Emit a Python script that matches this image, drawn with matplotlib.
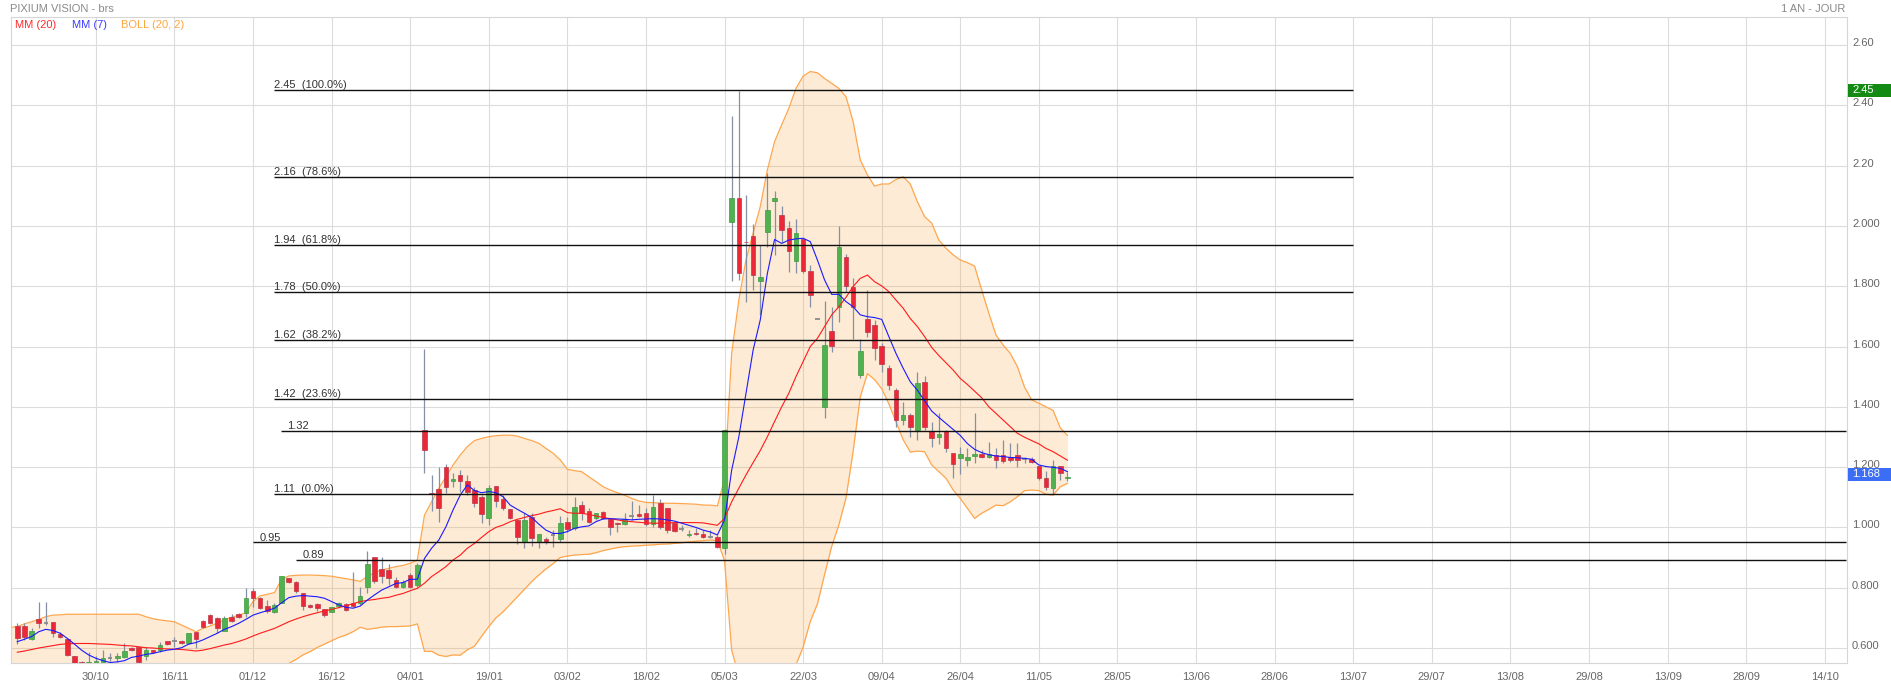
import matplotlib
matplotlib.use('Agg')
import matplotlib.pyplot as plt
import matplotlib.transforms as mtrans
from matplotlib.patches import Rectangle
import numpy as np

plt.rcParams['font.family'] = ['Liberation Sans', 'DejaVu Sans']

# ---------------- data ----------------
opens = [0.673, 0.673, 0.631, 0.695, 0.683, 0.685, 0.645, 0.631, 0.573, 0.553,
         0.545, 0.548, 0.545, 0.568, 0.567, 0.571, 0.600, 0.602, 0.574, 0.593,
         0.593, 0.623, 0.624, 0.623, 0.615, 0.652, 0.691, 0.708, 0.699, 0.656,
         0.703, 0.712, 0.715, 0.789, 0.765, 0.740, 0.720, 0.750, 0.831, 0.820,
         0.781, 0.742, 0.746, 0.728, 0.721, 0.740, 0.746, 0.748, 0.748, 0.803,
         0.901, 0.862, 0.858, 0.826, 0.803, 0.842, 0.810, 1.323, 1.115, 1.127,
         1.201, 1.155, 1.174, 1.155, 1.124, 1.102, 1.032, 1.137, 1.094, 1.060,
         1.025, 0.953, 1.036, 0.953, 0.960, 0.975, 0.960, 1.019, 0.997, 1.073,
         1.054, 1.030, 1.050, 1.028, 1.016, 1.010, 1.037, 1.043, 1.047, 1.010,
         1.080, 1.063, 1.014, 0.996, 0.974, 0.983, 0.978, 0.968, 0.969, 0.931,
         2.014, 2.091, 1.948, 1.967, 1.818, 1.981, 2.081, 2.036, 1.992, 1.885,
         1.957, 1.851, 1.691, 1.401, 1.652, 1.732, 1.896, 1.799, 1.504, 1.691,
         1.671, 1.602, 1.528, 1.456, 1.356, 1.373, 1.323, 1.481, 1.320, 1.301,
         1.321, 1.246, 1.229, 1.224, 1.238, 1.242, 1.232, 1.241, 1.241, 1.235,
         1.241, 1.228, 1.226, 1.204, 1.165, 1.132, 1.204, 1.165]

closes = [0.632, 0.638, 0.655, 0.684, 0.683, 0.651, 0.635, 0.576, 0.545, 0.540,
          0.553, 0.556, 0.568, 0.568, 0.573, 0.591, 0.593, 0.555, 0.592, 0.586,
          0.609, 0.612, 0.624, 0.615, 0.649, 0.629, 0.671, 0.682, 0.665, 0.701,
          0.690, 0.702, 0.765, 0.765, 0.732, 0.722, 0.743, 0.839, 0.820, 0.790,
          0.739, 0.737, 0.732, 0.710, 0.735, 0.748, 0.726, 0.738, 0.773, 0.879,
          0.823, 0.839, 0.831, 0.803, 0.820, 0.803, 0.875, 1.257, 1.111, 1.066,
          1.135, 1.160, 1.155, 1.116, 1.080, 1.043, 1.130, 1.089, 1.063, 1.030,
          0.969, 1.025, 0.964, 0.978, 0.952, 0.975, 1.014, 0.994, 1.067, 1.047,
          1.019, 1.047, 1.030, 1.002, 1.010, 1.028, 1.037, 1.038, 1.010, 1.067,
          1.000, 0.991, 0.989, 0.996, 0.979, 0.977, 0.967, 0.968, 0.936, 1.323,
          2.091, 1.843, 1.945, 1.837, 1.829, 2.053, 2.094, 1.987, 1.918, 1.975,
          1.852, 1.770, 1.691, 1.605, 1.602, 1.929, 1.802, 1.732, 1.585, 1.649,
          1.594, 1.541, 1.472, 1.356, 1.373, 1.334, 1.478, 1.332, 1.295, 1.310,
          1.262, 1.210, 1.242, 1.232, 1.242, 1.232, 1.243, 1.224, 1.220, 1.224,
          1.224, 1.228, 1.218, 1.165, 1.135, 1.204, 1.182, 1.168]

highs = [0.682, 0.684, 0.665, 0.751, 0.751, 0.686, 0.652, 0.632, 0.575, 0.556,
         0.587, 0.575, 0.593, 0.585, 0.585, 0.617, 0.602, 0.604, 0.602, 0.595,
         0.621, 0.624, 0.636, 0.626, 0.650, 0.653, 0.694, 0.712, 0.703, 0.706,
         0.712, 0.717, 0.800, 0.798, 0.768, 0.759, 0.748, 0.840, 0.833, 0.822,
         0.783, 0.745, 0.750, 0.731, 0.737, 0.752, 0.749, 0.851, 0.803, 0.922,
         0.903, 0.903, 0.879, 0.835, 0.826, 0.848, 0.881, 1.592, 1.174, 1.201,
         1.210, 1.181, 1.190, 1.174, 1.135, 1.108, 1.141, 1.138, 1.107, 1.062,
         1.026, 1.047, 1.047, 0.979, 0.967, 0.993, 1.038, 1.036, 1.102, 1.087,
         1.063, 1.047, 1.053, 1.028, 1.019, 1.047, 1.087, 1.074, 1.063, 1.107,
         1.094, 1.063, 1.016, 1.007, 0.991, 0.997, 0.991, 0.991, 0.975, 1.325,
         2.365, 2.449, 2.103, 2.005, 1.937, 2.174, 2.116, 2.066, 2.016, 2.023,
         1.958, 1.870, 1.692, 1.752, 1.732, 2.001, 1.907, 1.826, 1.624, 1.787,
         1.688, 1.610, 1.540, 1.461, 1.417, 1.378, 1.514, 1.502, 1.351, 1.378,
         1.322, 1.248, 1.268, 1.262, 1.378, 1.257, 1.284, 1.263, 1.290, 1.279,
         1.279, 1.235, 1.235, 1.205, 1.188, 1.224, 1.205, 1.184]

lows = [0.612, 0.628, 0.625, 0.665, 0.675, 0.638, 0.632, 0.573, 0.540, 0.535,
        0.540, 0.545, 0.540, 0.556, 0.555, 0.566, 0.591, 0.550, 0.561, 0.584,
        0.588, 0.609, 0.605, 0.613, 0.612, 0.601, 0.668, 0.680, 0.650, 0.655,
        0.686, 0.699, 0.704, 0.737, 0.728, 0.715, 0.716, 0.748, 0.815, 0.783,
        0.726, 0.734, 0.722, 0.704, 0.718, 0.735, 0.723, 0.735, 0.743, 0.782,
        0.815, 0.815, 0.809, 0.800, 0.800, 0.798, 0.803, 1.181, 1.055, 1.019,
        1.113, 1.135, 1.119, 1.107, 1.067, 1.014, 1.008, 1.067, 1.058, 1.027,
        0.945, 0.933, 0.938, 0.931, 0.945, 0.936, 0.953, 0.986, 0.991, 1.025,
        1.014, 1.025, 1.027, 0.975, 0.984, 1.007, 1.025, 1.036, 1.005, 1.002,
        0.994, 0.983, 0.986, 0.989, 0.969, 0.975, 0.964, 0.964, 0.933, 0.912,
        1.818, 1.821, 1.749, 1.787, 1.705, 1.931, 1.904, 1.948, 1.848, 1.843,
        1.843, 1.732, 1.690, 1.362, 1.583, 1.682, 1.782, 1.624, 1.494, 1.633,
        1.555, 1.517, 1.456, 1.334, 1.340, 1.301, 1.290, 1.323, 1.266, 1.276,
        1.251, 1.165, 1.177, 1.204, 1.215, 1.229, 1.229, 1.196, 1.215, 1.218,
        1.201, 1.212, 1.213, 1.157, 1.124, 1.111, 1.157, 1.154]

ma7 = [0.621, 0.629, 0.638, 0.654, 0.662, 0.658, 0.649, 0.632, 0.613, 0.593,
       0.577, 0.566, 0.558, 0.552, 0.554, 0.558, 0.569, 0.573, 0.579, 0.582,
       0.588, 0.593, 0.596, 0.601, 0.613, 0.618, 0.627, 0.638, 0.649, 0.662,
       0.671, 0.682, 0.695, 0.709, 0.717, 0.724, 0.732, 0.750, 0.767, 0.772,
       0.774, 0.772, 0.770, 0.765, 0.754, 0.743, 0.735, 0.732, 0.739, 0.759,
       0.776, 0.792, 0.803, 0.814, 0.817, 0.828, 0.828, 0.897, 0.931, 0.958,
       1.002, 1.058, 1.107, 1.141, 1.122, 1.115, 1.119, 1.115, 1.102, 1.074,
       1.060, 1.047, 1.033, 1.011, 0.991, 0.980, 0.980, 0.986, 0.997, 1.002,
       1.005, 1.019, 1.028, 1.029, 1.028, 1.027, 1.025, 1.027, 1.028, 1.029,
       1.028, 1.025, 1.021, 1.014, 1.007, 1.000, 0.991, 0.985, 0.975, 1.025,
       1.190, 1.300, 1.445, 1.588, 1.688, 1.843, 1.955, 1.942, 1.953, 1.957,
       1.959, 1.948, 1.887, 1.821, 1.773, 1.773, 1.749, 1.732, 1.705, 1.699,
       1.696, 1.690, 1.633, 1.577, 1.528, 1.483, 1.455, 1.420, 1.386, 1.365,
       1.345, 1.325, 1.305, 1.278, 1.259, 1.248, 1.241, 1.237, 1.235, 1.232,
       1.231, 1.229, 1.226, 1.207, 1.202, 1.199, 1.196, 1.185]

ma20 = [0.586, 0.590, 0.595, 0.600, 0.604, 0.608, 0.612, 0.614, 0.615, 0.615,
        0.615, 0.614, 0.613, 0.612, 0.610, 0.608, 0.607, 0.604, 0.601, 0.600,
        0.598, 0.597, 0.596, 0.595, 0.593, 0.590, 0.593, 0.598, 0.604, 0.610,
        0.615, 0.622, 0.630, 0.640, 0.649, 0.657, 0.665, 0.676, 0.687, 0.696,
        0.704, 0.711, 0.717, 0.723, 0.728, 0.734, 0.740, 0.747, 0.754, 0.758,
        0.761, 0.765, 0.768, 0.775, 0.781, 0.790, 0.798, 0.815, 0.837, 0.853,
        0.870, 0.892, 0.908, 0.931, 0.947, 0.967, 0.986, 1.000, 1.008, 1.019,
        1.027, 1.033, 1.039, 1.044, 1.051, 1.056, 1.062, 1.049, 1.047, 1.047,
        1.043, 1.038, 1.033, 1.029, 1.025, 1.021, 1.019, 1.017, 1.015, 1.014,
        1.014, 1.014, 1.016, 1.016, 1.016, 1.016, 1.015, 1.011, 1.007, 1.030,
        1.085, 1.130, 1.174, 1.215, 1.255, 1.301, 1.351, 1.400, 1.445, 1.500,
        1.550, 1.600, 1.627, 1.666, 1.705, 1.732, 1.763, 1.799, 1.826, 1.837,
        1.815, 1.801, 1.782, 1.754, 1.727, 1.693, 1.666, 1.633, 1.597, 1.570,
        1.546, 1.522, 1.494, 1.474, 1.452, 1.430, 1.400, 1.378, 1.356, 1.334,
        1.312, 1.299, 1.288, 1.277, 1.262, 1.251, 1.237, 1.223]

# Bollinger bands: first value sits one session before the first candle
boll_upper = [0.668,
              0.671, 0.680, 0.687, 0.695, 0.704, 0.709, 0.710, 0.712, 0.712, 0.712,
              0.712, 0.712, 0.712, 0.712, 0.712, 0.712, 0.712, 0.712, 0.704, 0.697,
              0.693, 0.690, 0.687, 0.676, 0.665, 0.654, 0.665, 0.673, 0.682, 0.693,
              0.702, 0.709, 0.717, 0.754, 0.773, 0.778, 0.784, 0.828, 0.839, 0.841,
              0.842, 0.842, 0.841, 0.840, 0.838, 0.834, 0.830, 0.826, 0.821, 0.837,
              0.850, 0.859, 0.864, 0.870, 0.874, 0.881, 0.892, 1.041, 1.085, 1.130,
              1.168, 1.207, 1.240, 1.268, 1.288, 1.295, 1.301, 1.304, 1.306, 1.306,
              1.303, 1.295, 1.288, 1.279, 1.262, 1.246, 1.224, 1.193, 1.188, 1.185,
              1.168, 1.152, 1.135, 1.124, 1.115, 1.107, 1.096, 1.088, 1.083, 1.082,
              1.081, 1.080, 1.080, 1.079, 1.078, 1.077, 1.074, 1.074, 1.071, 1.160,
              1.577, 1.754, 1.887, 1.975, 2.064, 2.186, 2.279, 2.335, 2.390, 2.456,
              2.497, 2.512, 2.508, 2.489, 2.473, 2.456, 2.429, 2.346, 2.219, 2.169,
              2.132, 2.139, 2.139, 2.154, 2.163, 2.139, 2.080, 2.031, 2.009, 1.953,
              1.926, 1.904, 1.887, 1.878, 1.867, 1.787, 1.710, 1.638, 1.605, 1.577,
              1.533, 1.465, 1.423, 1.412, 1.400, 1.388, 1.330, 1.305]

boll_lower = [0.500,
              0.501, 0.500, 0.503, 0.505, 0.504, 0.507, 0.514, 0.516, 0.518, 0.518,
              0.518, 0.516, 0.514, 0.512, 0.508, 0.504, 0.502, 0.496, 0.498, 0.503,
              0.503, 0.504, 0.505, 0.514, 0.521, 0.526, 0.521, 0.523, 0.526, 0.527,
              0.528, 0.535, 0.543, 0.526, 0.525, 0.536, 0.540, 0.524, 0.549, 0.562,
              0.577, 0.588, 0.602, 0.613, 0.624, 0.635, 0.643, 0.654, 0.669, 0.662,
              0.665, 0.669, 0.671, 0.671, 0.672, 0.673, 0.680, 0.589, 0.589, 0.576,
              0.572, 0.577, 0.576, 0.594, 0.606, 0.639, 0.671, 0.700, 0.720, 0.745,
              0.770, 0.795, 0.820, 0.842, 0.862, 0.880, 0.900, 0.905, 0.908, 0.910,
              0.911, 0.916, 0.923, 0.928, 0.933, 0.936, 0.938, 0.939, 0.941, 0.942,
              0.944, 0.945, 0.947, 0.949, 0.952, 0.954, 0.956, 0.958, 0.956, 0.890,
              0.593, 0.506, 0.461, 0.455, 0.446, 0.416, 0.423, 0.465, 0.500, 0.544,
              0.603, 0.688, 0.746, 0.843, 0.937, 1.008, 1.097, 1.252, 1.433, 1.510,
              1.490, 1.460, 1.410, 1.350, 1.291, 1.250, 1.253, 1.251, 1.207, 1.185,
              1.163, 1.124, 1.096, 1.063, 1.030, 1.047, 1.060, 1.074, 1.072, 1.085,
              1.102, 1.122, 1.124, 1.122, 1.110, 1.107, 1.135, 1.146]

tick_labels = ['30/10', '16/11', '01/12', '16/12', '04/01', '19/01', '03/02',
               '18/02', '05/03', '22/03', '09/04', '26/04', '11/05', '28/05',
               '13/06', '28/06', '13/07', '29/07', '13/08', '29/08', '13/09',
               '28/09', '14/10']
tick_step = 11  # sessions between date labels

ytick_values = [0.6, 0.8, 1.0, 1.2, 1.4, 1.6, 1.8, 2.0, 2.2, 2.4, 2.6]
ytick_labels = ['0.600', '0.800', '1.000', '1.200', '1.400', '1.600', '1.800',
                '2.000', '2.20', '2.40', '2.60']

fib_values = [2.45, 2.163, 1.938, 1.78, 1.622, 1.426, 1.11]
fib_labels = ['2.45  (100.0%)', '2.16  (78.6%)', '1.94  (61.8%)', '1.78  (50.0%)',
              '1.62  (38.2%)', '1.42  (23.6%)', '1.11  (0.0%)']
fib_start, fib_end = 35.9, 187

level_values = [1.321, 0.950, 0.891]
level_labels = ['1.32', '0.95', '0.89']
level_starts = [36.9, 33.0, 39.0]

last_price = 1.168
last_label = '1.168'
high_price = 2.45
high_label = '2.45'

# ---------------- figure ----------------
W, H = 1891, 687
fig = plt.figure(figsize=(W / 100, H / 100), dpi=100)
L, R, T, B = 10.7, 1846.5, 17.3, 663.3
ax = fig.add_axes([L / W, 1 - B / H, (R - L) / W, (B - T) / H])
ax.set_xlim(-0.92, 256.05)
ax.set_ylim(0.5493, 2.6919)

n = len(closes)
x = np.arange(n)
xb = np.arange(-1, n)
o = np.array(opens)
c = np.array(closes)
hi = np.array(highs)
lo = np.array(lows)

# grid
ax.set_xticks(np.arange(1, len(tick_labels) + 1) * tick_step)
ax.set_xticklabels(tick_labels)
ax.set_yticks(ytick_values)
ax.set_yticklabels(ytick_labels)
ax.grid(True, color='#dcdcdc', lw=0.8, zorder=0)
ax.set_axisbelow(True)
for s in ax.spines.values():
    s.set_color('#d6d6d6')
    s.set_linewidth(0.8)
ax.yaxis.tick_right()
ax.tick_params(axis='y', length=0, pad=4, labelsize=8, labelcolor='#666666')
ax.tick_params(axis='x', length=0, pad=6, labelsize=8, labelcolor='#666666')
for lab in ax.get_yticklabels():
    lab.set_transform(lab.get_transform() + mtrans.ScaledTranslation(0, 3 / 100, fig.dpi_scale_trans))

# Bollinger
ax.fill_between(xb, boll_lower, boll_upper, color='#f7a23c', alpha=0.21, lw=0, zorder=1)
ax.plot(xb, boll_upper, color='#ffa64d', lw=0.9, zorder=2)
ax.plot(xb, boll_lower, color='#ffa64d', lw=0.9, zorder=2)

# candles
ax.vlines(x, lo, hi, color='#8590a4', lw=0.9, zorder=3)
up = c > o
dn = c < o
fl = c == o
bottom = np.minimum(o, c)
height = np.abs(c - o)
ax.bar(x[up], height[up], bottom=bottom[up], width=0.64, color='#4fb14f',
       edgecolor='#3f9a3f', lw=0.5, zorder=4)
ax.bar(x[dn], height[dn], bottom=bottom[dn], width=0.64, color='#ec2838',
       edgecolor='#b8384a', lw=0.5, zorder=4)
ax.hlines(c[fl], x[fl] - 0.32, x[fl] + 0.32, color='#8a8a8a', lw=1.3, zorder=4)

# moving averages
ax.plot(x, ma20, color='#ff1a1a', lw=0.8, zorder=5)
ax.plot(x, ma7, color='#1a1aff', lw=0.8, zorder=5)

# fibonacci
ax.hlines(fib_values, fib_start, fib_end, color='#111111', lw=1.0, zorder=6)
for v, t in zip(fib_values, fib_labels):
    ax.text(fib_start, v + 0.006, t, fontsize=8, color='#333333', va='baseline',
            ha='left', zorder=7)
for v, t, s in zip(level_values, level_labels, level_starts):
    ax.hlines(v, s, ax.get_xlim()[1], color='#111111', lw=1.0, zorder=6)
    ax.text(s + 0.9, v + 0.006, t, fontsize=8, color='#333333', va='baseline',
            ha='left', zorder=7)

# header texts
fig.text(10 / W, 1 - 8.5 / H, 'PIXIUM VISION - brs', fontsize=8, color='#8a8a8a',
         ha='left', va='center')
fig.text(1845 / W, 1 - 8.5 / H, '1 AN - JOUR', fontsize=8, color='#8a8a8a',
         ha='right', va='center')
fig.text(15 / W, 1 - 25 / H, 'MM (20)', fontsize=8, color='#ff2a2a', ha='left', va='center')
fig.text(71.5 / W, 1 - 25 / H, 'MM (7)', fontsize=8, color='#3a3aff', ha='left', va='center')
fig.text(121 / W, 1 - 25 / H, 'BOLL (20, 2)', fontsize=8, color='#ffa53f', ha='left', va='center')

# price badges
trans = mtrans.blended_transform_factory(fig.transFigure, ax.transData)
bh = 13 / 301.5
for val, txt, col, dy in [(high_price, high_label, '#138a13', 0.0),
                          (last_price, last_label, '#3b6ef5', 0.009)]:
    rect = Rectangle((1848 / W, val + dy - bh / 2), (W - 1848) / W, bh,
                     transform=trans, facecolor=col, edgecolor='none', clip_on=False)
    fig.add_artist(rect)
    fig.text(1852 / W, val + dy, txt, transform=trans, fontsize=8, color='white',
             ha='left', va='center')

fig.savefig('out.png', dpi=100)
